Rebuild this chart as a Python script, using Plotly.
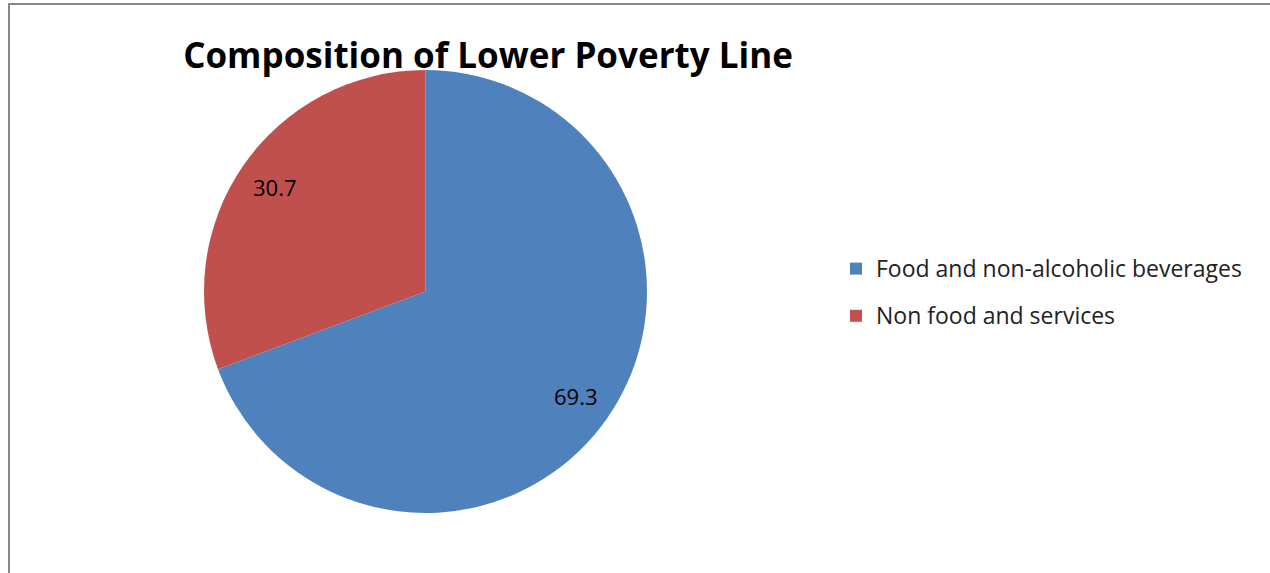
import math
import plotly.graph_objects as go

categories = ["Food and non-alcoholic beverages", "Non food and services"]
values = [69.3, 30.7]
colors = ["#4F81BD", "#C0504D"]
title_text = "Composition of Lower Poverty Line"

W, H = 1270, 573

# pie domain (pixels)
px0, px1, py0, py1 = 204, 647, 70, 513
dom_x = [px0 / W, px1 / W]
dom_y = [1 - py1 / H, 1 - py0 / H]

legend_labels = [
    '<span style="font-size:23px;baseline-shift:5px">' + c + "</span>" for c in categories
]

fig = go.Figure(
    go.Pie(
        labels=legend_labels,
        values=values,
        sort=False,
        direction="clockwise",
        rotation=0,
        marker=dict(colors=colors, line=dict(width=0)),
        textinfo="none",
        domain=dict(x=dom_x, y=dom_y),
        hovertemplate="%{value}<extra></extra>",
    )
)

# data labels placed at each slice's mid-angle (Excel-style best fit)
cx = (dom_x[0] + dom_x[1]) / 2
cy = (dom_y[0] + dom_y[1]) / 2
r_px = min(px1 - px0, py1 - py0) / 2
rx, ry = r_px / W, r_px / H
total = sum(values)
cum = 0.0
annotations = []
for v in values:
    mid = (cum + v / 2) / total * 2 * math.pi
    cum += v
    f = 0.825
    annotations.append(
        dict(
            x=cx + f * rx * math.sin(mid),
            y=cy + f * ry * math.cos(mid),
            xref="paper",
            yref="paper",
            text=f"{v}",
            showarrow=False,
            xanchor="center",
            yanchor="middle",
            font=dict(family="Open Sans", size=22, color="#000000"),
        )
    )

fig.update_layout(
    width=W,
    height=H,
    margin=dict(l=0, r=0, t=0, b=0),
    paper_bgcolor="white",
    plot_bgcolor="white",
    title=dict(
        text="<b>" + title_text + "</b>",
        x=488 / W,
        xanchor="center",
        y=1 - 43 / H,
        yanchor="top",
        font=dict(family="Open Sans", size=35, color="#000000"),
    ),
    legend=dict(
        x=836 / W,
        xanchor="left",
        y=1 - 240 / H,
        yanchor="top",
        font=dict(family="Open Sans", size=34, color="#222222"),
        bgcolor="rgba(0,0,0,0)",
    ),
    annotations=annotations,
    shapes=[
        dict(
            type="rect",
            xref="paper",
            yref="paper",
            x0=9 / W,
            x1=1.05,
            y0=-0.05,
            y1=1 - 4 / H,
            line=dict(color="#888888", width=2),
            fillcolor="rgba(0,0,0,0)",
        )
    ],
)

fig.write_html("out.html")
